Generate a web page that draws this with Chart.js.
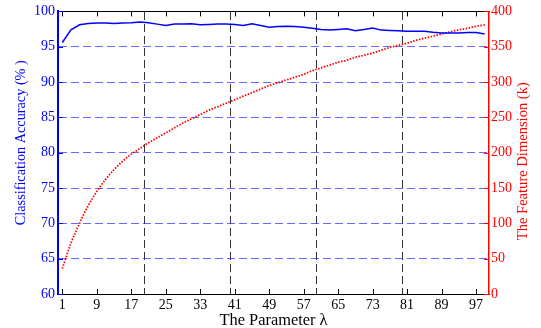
<!DOCTYPE html>
<html>
<head>
<meta charset="utf-8">
<script src="https://cdn.jsdelivr.net/npm/chart.js@4.4.0/dist/chart.umd.min.js"></script>
<style>
html,body{margin:0;padding:0;background:#fff;}
#wrap{width:541px;height:328px;}
</style>
</head>
<body>
<div id="wrap"><canvas id="c" width="541" height="328"></canvas></div>
<script>
// ---- data ----
const lambdaValues = [1,3,5,7,9,11,13,15,17,19,21,23,25,27,29,31,33,35,37,39,41,43,45,47,49,51,53,55,57,59,61,63,65,67,69,71,73,75,77,79,81,83,85,87,89,91,93,95,97,99];
const accuracy = [95.6,97.4,98.1,98.3,98.35,98.35,98.3,98.35,98.4,98.5,98.4,98.2,98.0,98.2,98.2,98.25,98.1,98.15,98.2,98.2,98.15,98.0,98.25,98.0,97.75,97.85,97.9,97.85,97.75,97.6,97.45,97.35,97.45,97.55,97.25,97.45,97.65,97.35,97.3,97.25,97.2,97.2,97.2,97.05,96.95,96.95,96.95,97.0,97.0,96.8];
const featureDim = [36,72,100,125,145,162,176,188,198,206,214,221,228,235,242,248,254,260,265,270,275,280,285,290,295,299,303,307,311,316,320,324,328,331,335,338,341,345,349,352,355,359,362,365,368,371,374,376,379,381];
const xTickValues = [1,9,17,25,33,41,49,57,65,73,81,89,97];
const accTicks = [60,65,70,75,80,85,90,95,100];
const dimTicks = [0,50,100,150,200,250,300,350,400];
const vGridValues = [20,40,60,80];
const xTitle = 'The Parameter λ';
const yTitle = 'Classification Accuracy (% )';
const y2Title = 'The Feature Dimension (k)';

const SERIF = "'Liberation Serif', 'DejaVu Serif', serif";

function drawTitle(ctx, text, cx, cy, rot, size, targetW, color, baseline) {
  ctx.save();
  ctx.font = size + 'px ' + SERIF;
  ctx.fillStyle = color;
  ctx.textAlign = 'center';
  ctx.textBaseline = baseline;
  const w = ctx.measureText(text).width;
  ctx.translate(cx, cy);
  ctx.rotate(rot);
  ctx.scale(targetW / w, 1);
  ctx.fillText(text, 0, 0);
  ctx.restore();
}

const extras = {
  id: 'extras',
  afterDraw(chart) {
    const {ctx, chartArea: a, scales} = chart;
    ctx.save();
    ctx.lineWidth = 1;
    ctx.strokeStyle = '#000';
    xTickValues.forEach(v => {
      const px = Math.round(scales.x.getPixelForValue(v)) + 0.5;
      ctx.beginPath();
      ctx.moveTo(px, a.bottom); ctx.lineTo(px, a.bottom - 5);
      ctx.moveTo(px, a.top); ctx.lineTo(px, a.top + 5);
      ctx.stroke();
    });
    ctx.strokeStyle = '#0000ff';
    accTicks.forEach(v => {
      const py = Math.round(scales.y.getPixelForValue(v)) + 0.5;
      ctx.beginPath(); ctx.moveTo(a.left, py); ctx.lineTo(a.left + 5, py); ctx.stroke();
    });
    ctx.strokeStyle = '#ff0000';
    dimTicks.forEach(v => {
      const py = Math.round(scales.y2.getPixelForValue(v)) + 0.5;
      ctx.beginPath(); ctx.moveTo(a.right, py); ctx.lineTo(a.right - 5, py); ctx.stroke();
    });
    ctx.restore();
    const midY = (a.top + a.bottom) / 2;
    drawTitle(ctx, yTitle, scales.y.left + 21, midY - 10, -Math.PI / 2, 14, 165, '#0000ff', 'middle');
    drawTitle(ctx, y2Title, scales.y2.left + 34, midY + 8.5, -Math.PI / 2, 14, 158, '#ff0000', 'middle');
    drawTitle(ctx, xTitle, (a.left + a.right) / 2, scales.x.bottom - 3.5, 0, 17, 108, '#000', 'alphabetic');
  }
};

new Chart(document.getElementById('c'), {
  type: 'line',
  data: {
    datasets: [
      {
        label: 'Classification Accuracy',
        data: lambdaValues.map((x, i) => ({x, y: accuracy[i]})),
        xAxisID: 'x', yAxisID: 'y',
        borderColor: '#0000ff', borderWidth: 1.5,
        pointRadius: 0, tension: 0, fill: false
      },
      {
        label: 'Feature Dimension',
        data: lambdaValues.map((x, i) => ({x, y: featureDim[i]})),
        xAxisID: 'x', yAxisID: 'y2',
        borderColor: '#ff0000', borderWidth: 1.8, borderDash: [1.5, 1.5],
        pointRadius: 0, tension: 0.3, cubicInterpolationMode: 'monotone', fill: false
      }
    ]
  },
  options: {
    responsive: false,
    animation: false,
    events: [],
    layout: {padding: {top: 11, left: 0, right: 0, bottom: 0}},
    plugins: {legend: {display: false}, tooltip: {enabled: false}},
    scales: {
      x: {
        type: 'linear', position: 'bottom', min: 0, max: 100,
        afterBuildTicks: s => { s.ticks = xTickValues.map(v => ({value: v})); },
        afterFit: s => { s.height = 34; },
        ticks: {color: '#000', font: {family: SERIF, size: 14}, maxRotation: 0, autoSkip: false, padding: 3},
        grid: {drawOnChartArea: false, drawTicks: false},
        border: {display: true, color: '#000', width: 1}
      },
      xg: {
        type: 'linear', position: 'top', min: 0, max: 100,
        afterBuildTicks: s => { s.ticks = vGridValues.map(v => ({value: v})); },
        afterFit: s => { s.height = 0; },
        ticks: {display: false},
        grid: {color: '#333', lineWidth: 1, drawTicks: false},
        border: {display: true, color: '#000', width: 1, dash: [8, 4]}
      },
      y: {
        type: 'linear', position: 'left', min: 60, max: 100,
        afterBuildTicks: s => { s.ticks = accTicks.map(v => ({value: v})); },
        afterFit: s => { s.width = 58; },
        ticks: {color: '#0000ff', font: {family: SERIF, size: 14}, padding: 3},
        grid: {
          color: c => (c.tick && (c.tick.value === 60 || c.tick.value === 100)) ? 'rgba(0,0,0,0)' : 'rgba(40,40,255,0.7)',
          lineWidth: 1, drawTicks: false
        },
        border: {display: true, color: '#0000ff', width: 2, dash: [8, 4]}
      },
      y2: {
        type: 'linear', position: 'right', min: 0, max: 400,
        afterBuildTicks: s => { s.ticks = dimTicks.map(v => ({value: v})); },
        afterFit: s => { s.width = 52; },
        ticks: {color: '#ff0000', font: {family: SERIF, size: 14}, padding: 2},
        grid: {drawOnChartArea: false, drawTicks: false},
        border: {display: true, color: '#ff0000', width: 1.5}
      }
    }
  },
  plugins: [extras]
});
</script>
</body>
</html>
